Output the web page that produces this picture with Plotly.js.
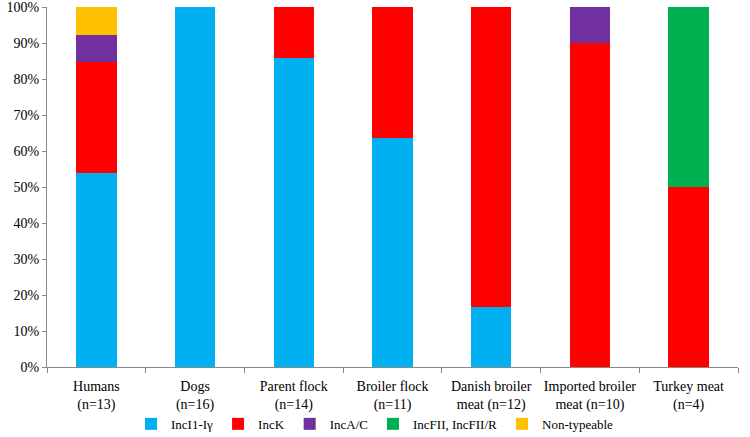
<!DOCTYPE html>
<html><head><meta charset="utf-8">
<script src="https://cdn.plot.ly/plotly-3.0.1.min.js"></script>
<style>html,body{margin:0;padding:0;background:#fff}#chart{width:750px;height:437px}</style>
</head><body><div id="chart"></div>
<script>
const categories = ["Humans<br>(n=13)", "Dogs<br>(n=16)", "Parent flock<br>(n=14)", "Broiler flock<br>(n=11)", "Danish broiler<br>meat (n=12)", "Imported broiler<br>meat (n=10)", "Turkey meat<br>(n=4)"];
const seriesNames = ["IncI1-Iγ", "IncK", "IncA/C", "IncFII, IncFII/R", "Non-typeable"];
const incI1 = [53.8, 100, 85.7, 63.6, 16.7, 0, 0];
const incK = [30.8, 0, 14.3, 36.4, 83.3, 90, 50];
const incAC = [7.7, 0, 0, 0, 0, 10, 0];
const incFII = [0, 0, 0, 0, 0, 0, 50];
const nonType = [7.7, 0, 0, 0, 0, 0, 0];
const colors = ["#00B0F0", "#FF0000", "#7030A0", "#00B050", "#FFC000"];
const values = [incI1, incK, incAC, incFII, nonType];
const traces = values.map((v, i) => ({
  type: "bar", name: seriesNames[i], x: categories, y: v,
  marker: {color: colors[i], line: {width: 0}}
}));
const font = {family: "Liberation Serif, Times New Roman, serif", size: 14, color: "#000"};
Plotly.newPlot("chart", traces, {
  width: 750, height: 437, barmode: "stack", bargap: 0.59,
  margin: {l: 47, r: 12, t: 7, b: 70, autoexpand: false},
  paper_bgcolor: "#fff", plot_bgcolor: "#fff", font: font,
  showlegend: true,
  legend: {orientation: "h", x: 0.5, xanchor: "center", xref: "container", yref: "container", y: 0.03, yanchor: "middle",
           bgcolor: "rgba(0,0,0,0)",
           font: {family: font.family, size: 13, color: "#000"}, traceorder: "normal", itemwidth: 30, tracegroupgap: 0},
  xaxis: {automargin: false, tickangle: 0, ticklabelstandoff: 6, showline: true, linecolor: "#888", linewidth: 1, ticks: "outside", tickson: "boundaries", ticklen: 5, tickcolor: "#888", showgrid: false, tickfont: font, fixedrange: true},
  yaxis: {automargin: false, ticklabeloverflow: "allow", range: [0, 100], dtick: 10, ticksuffix: "%", showline: true, linecolor: "#888", linewidth: 1, ticks: "outside", ticklen: 4, tickcolor: "#888", showgrid: false, zeroline: false, tickfont: font, fixedrange: true}
}, {displayModeBar: false, staticPlot: true});
</script></body></html>
